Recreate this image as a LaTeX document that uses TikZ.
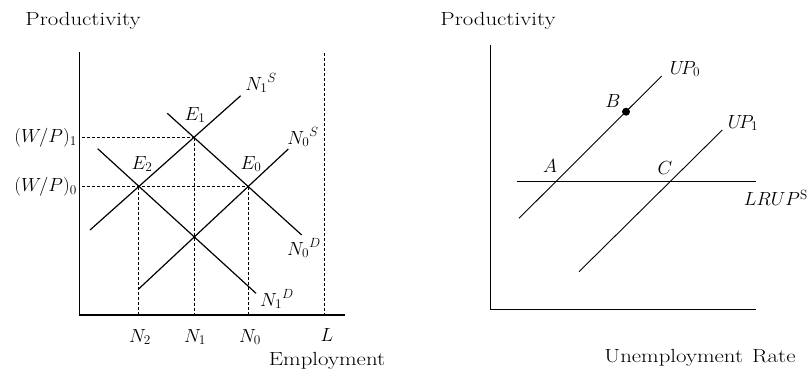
\RequirePackage{fix-cm}
\documentclass[tikz,border=0pt]{standalone}
\usepackage{tikz}
\newcommand{\wide}[1]{\scalebox{1.32}[1.1]{#1}}
\begin{document}
\begin{tikzpicture}[x=1pt,y=-1pt,
  lbl/.style={inner sep=0pt,font=\fontsize{19}{23}\selectfont},
  word/.style={inner sep=0pt,font=\LARGE},
  axis/.style={line width=1.3pt},
  curve/.style={line width=1.2pt},
  thin curve/.style={line width=0.9pt},
  guide/.style={line width=0.8pt,dash pattern=on 3pt off 2pt}]
\useasboundingbox (0,0) rectangle (810,373);
% ---------- left panel ----------
\coordinate (Ytop1) at (79.3,52);
\coordinate (O1) at (79.3,315);
\coordinate (Xend1) at (345,315);
\coordinate (Lt) at (324,53);
\coordinate (Lb) at (324,315);
\coordinate (E1) at (194,137.7);
\coordinate (E2) at (138.3,186.7);
\coordinate (E0) at (248,186.7);
\coordinate (Y1) at (82,137.7);
\coordinate (Y0) at (82,186.7);
\coordinate (X2) at (138.3,315);
\coordinate (X1) at (194,315);
\coordinate (X0) at (248,315);
\coordinate (s1a) at (90,230);
\coordinate (s1b) at (240.7,95.7);
\coordinate (s0a) at (138.3,289.3);
\coordinate (s0b) at (288.3,149);
\coordinate (d0a) at (167.3,113.3);
\coordinate (d0b) at (301.7,235);
\coordinate (d1a) at (97.7,148.7);
\coordinate (d1b) at (256,293.3);

\draw[guide] (Y1) -- (E1);
\draw[guide] (Y0) -- (E0);
\draw[guide] (E2) -- (X2);
\draw[guide] (E1) -- (X1);
\draw[guide] (E0) -- (X0);
\draw[guide] (Lt) -- (Lb);
\draw[axis] (Ytop1) -- (O1) -- (Xend1);
\draw[curve] (s1a) -- (s1b);
\draw[curve] (s0a) -- (s0b);
\draw[curve] (d0a) -- (d0b);
\draw[curve] (d1a) -- (d1b);

\node[word] (prodL) at (83,21) {\wide{Productivity}};
\node[word] (empl) at (327,361) {\wide{Employment}};
\node[lbl,anchor=east] (wp1) at (77,137.7) {$(W/P)_1$};
\node[lbl,anchor=east] (wp0) at (77,186.7) {$(W/P)_0$};
\node[lbl] (lN2) at (140,337) {$N_2$};
\node[lbl] (lN1) at (195,337) {$N_1$};
\node[lbl] (lN0) at (250,337) {$N_0$};
\node[lbl] (lL) at (327,335) {$L$};
\node[lbl] (lE1) at (195,115) {$E_1$};
\node[lbl] (lE2) at (142,164) {$E_2$};
\node[lbl] (lE0) at (251,164) {$E_0$};
\node[lbl] (lN1S) at (261,83) {${N_1}^{S}$};
\node[lbl] (lN0S) at (303,137) {${N_0}^{S}$};
\node[lbl] (lN0D) at (304,248) {${N_0}^{D}$};
\node[lbl] (lN1D) at (277,299) {${N_1}^{D}$};

% ---------- right panel ----------
\coordinate (Ytop2) at (490.7,45);
\coordinate (O2) at (490.7,309.3);
\coordinate (Xend2) at (756,309.3);
\coordinate (lra) at (516.7,181.7);
\coordinate (lrb) at (756,181.7);
\coordinate (u0a) at (519,218.3);
\coordinate (u0b) at (661.7,76);
\coordinate (u1a) at (579,271.7);
\coordinate (u1b) at (722.3,130);

\draw[axis] (Ytop2) -- (O2) -- (Xend2);
\draw[curve] (lra) -- (lrb);
\draw[thin curve] (u0a) -- (u0b);
\draw[thin curve] (u1a) -- (u1b);
\node[circle,fill=black,inner sep=0pt,minimum size=8pt] (B) at (626,111.7) {};

\node[word] (prodR) at (498,21) {\wide{Productivity}};
\node[word] (unemp) at (700,358) {\wide{Unemployment\hspace{0.4em}Rate}};
\node[lbl] (lUP0) at (685,69) {$U\!P_0$};
\node[lbl] (lUP1) at (743,123) {$U\!P_1$};
\node[lbl] (lB) at (613,101) {$B$};
\node[lbl] (lA) at (550,166) {$A$};
\node[lbl] (lC) at (665,168) {$C$};
\node[lbl,anchor=east] (lLR) at (808,198) {$LRUP^{\mathrm{S}}$};
\end{tikzpicture}
\end{document}
